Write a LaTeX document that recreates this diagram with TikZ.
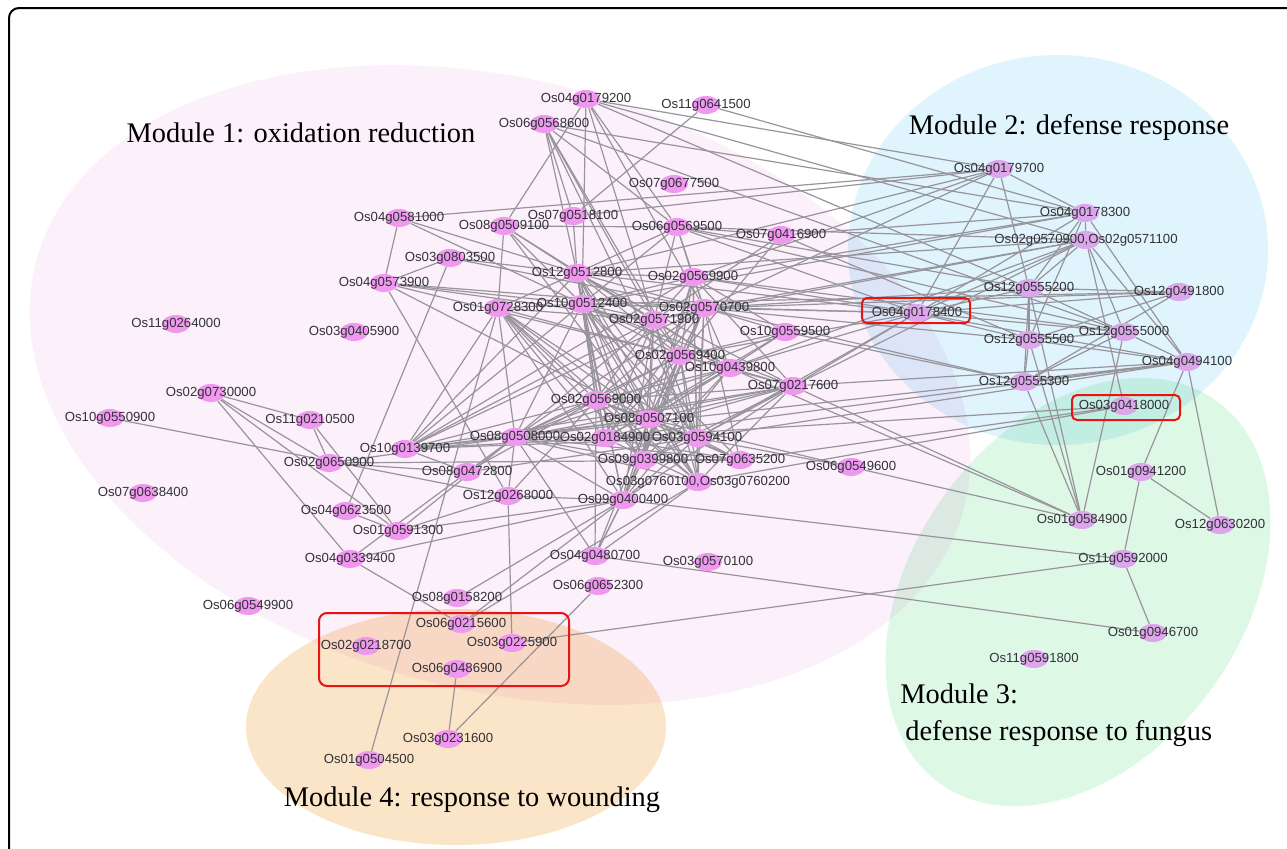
\documentclass[tikz,border=0pt]{standalone}
\usepackage{fontspec}
\setmainfont{Liberation Serif}
\setsansfont{Liberation Sans}
\usetikzlibrary{shapes.geometric}

\definecolor{modpink}{RGB}{252,240,251}
\definecolor{modblue}{RGB}{223,244,252}
\definecolor{modgreen}{RGB}{222,248,230}
\definecolor{modpeach}{RGB}{251,229,200}
\definecolor{genepink}{RGB}{240,152,240}
\definecolor{genelilac}{RGB}{220,165,236}
\definecolor{linkgray}{RGB}{152,148,156}
\definecolor{labelgray}{RGB}{50,50,55}
\definecolor{hilite}{RGB}{232,20,20}

\pgfdeclarelayer{regions}
\pgfdeclarelayer{links}
\pgfsetlayers{regions,links,main}

\begin{document}
\begin{tikzpicture}[
  x=0.5pt, y=-0.5pt,
  gene/.style={ellipse, fill=genepink, minimum width=14pt, minimum height=9pt, inner sep=0pt,
    label={[genelabel]center:#1}},
  defgene/.style={gene={#1}, fill=genelilac},
  genelabel/.style={font=\sffamily\fontsize{6.6}{7}\selectfont, text=labelgray, inner sep=0pt},
  link/.style={draw=linkgray, line width=0.6pt},
  module/.style={font=\fontsize{14.2}{18.5}\selectfont, align=left, inner sep=0pt},
  hilite/.style={draw=hilite, line width=1pt, rounded corners=2.5pt}
]
\useasboundingbox (0,0) rectangle (1287,848);

% modules
\begin{pgfonlayer}{regions}
\begin{scope}[blend mode=multiply]
\fill[modpink, rotate around={-15:(500,385)}] (500,385) ellipse [x radius=240pt, y radius=152.5pt];
\fill[modblue] (1058,250) ellipse [x radius=105pt, y radius=97.5pt];
\fill[modgreen, rotate around={54:(1078,592)}] (1078,592) ellipse [x radius=118pt, y radius=82.5pt];
\fill[modpeach] (456,727) ellipse [x radius=105pt, y radius=59pt];
\end{scope}
\end{pgfonlayer}

\draw[line width=1pt, rounded corners=5pt] (9,860) -- (9,8) -- (1300,8);

% module 1
\node[gene=Os04g0179200] (Os04g0179200) at (586,99) {};
\node[gene=Os11g0641500] (Os11g0641500) at (706,105) {};
\node[gene=Os06g0568600] (Os06g0568600) at (544,124) {};
\node[gene=Os07g0677500] (Os07g0677500) at (674,184) {};
\node[gene=Os04g0581000] (Os04g0581000) at (399,218) {};
\node[gene=Os08g0509100] (Os08g0509100) at (504,226) {};
\node[gene=Os07g0518100] (Os07g0518100) at (573,216) {};
\node[gene=Os06g0569500] (Os06g0569500) at (677,227) {};
\node[gene=Os07g0416900] (Os07g0416900) at (781,235) {};
\node[gene=Os03g0803500] (Os03g0803500) at (450,258) {};
\node[gene=Os12g0512800] (Os12g0512800) at (577,273) {};
\node[gene=Os02g0569900] (Os02g0569900) at (693,277) {};
\node[gene=Os04g0573900] (Os04g0573900) at (384,283) {};
\node[gene=Os01g0728300] (Os01g0728300) at (498,308) {};
\node[gene=Os10g0512400] (Os10g0512400) at (582,304) {};
\node[gene=Os02g0570700] (Os02g0570700) at (704,308) {};
\node[gene=Os02g0571900] (Os02g0571900) at (654,320) {};
\node[gene=Os10g0559500] (Os10g0559500) at (785,332) {};
\node[gene=Os11g0264000] (Os11g0264000) at (176,324) {};
\node[gene=Os03g0405900] (Os03g0405900) at (354,332) {};
\node[gene=Os02g0569400] (Os02g0569400) at (680,356) {};
\node[gene=Os10g0439800] (Os10g0439800) at (730,368) {};
\node[gene=Os07g0217600] (Os07g0217600) at (793,386) {};
\node[gene=Os02g0730000] (Os02g0730000) at (211,393) {};
\node[gene=Os10g0550900] (Os10g0550900) at (110,418) {};
\node[gene=Os11g0210500] (Os11g0210500) at (310,420) {};
\node[gene=Os02g0569000] (Os02g0569000) at (596,400) {};
\node[gene=Os08g0507100] (Os08g0507100) at (649,419) {};
\node[gene=Os10g0139700] (Os10g0139700) at (405,449) {};
\node[gene=Os08g0508000] (Os08g0508000) at (515,437) {};
\node[gene=Os02g0184900] (Os02g0184900) at (605,438) {};
\node[gene=Os03g0594100] (Os03g0594100) at (697,438) {};
\node[gene=Os02g0650900] (Os02g0650900) at (329,463) {};
\node[gene=Os08g0472800] (Os08g0472800) at (467,472) {};
\node[gene=Os09g0399800] (Os09g0399800) at (643,460) {};
\node[gene=Os07g0635200] (Os07g0635200) at (740,460) {};
\node[gene=Os06g0549600] (Os06g0549600) at (851,467) {};
\node[gene=Os07g0638400] (Os07g0638400) at (143,493) {};
\node[gene={Os03g0760100,Os03g0760200}] (Os03g0760100) at (698,482) {};
\node[gene=Os12g0268000] (Os12g0268000) at (508,496) {};
\node[gene=Os09g0400400] (Os09g0400400) at (623,500) {};
\node[gene=Os04g0623500] (Os04g0623500) at (346,511) {};
\node[gene=Os01g0591300] (Os01g0591300) at (398,531) {};
\node[gene=Os04g0339400] (Os04g0339400) at (350,559) {};
\node[gene=Os04g0480700] (Os04g0480700) at (595,556) {};
\node[gene=Os03g0570100] (Os03g0570100) at (708,562) {};
\node[gene=Os06g0549900] (Os06g0549900) at (248,606) {};
\node[gene=Os08g0158200] (Os08g0158200) at (457,598) {};
\node[gene=Os06g0652300] (Os06g0652300) at (598,586) {};
% module 4
\node[gene=Os06g0215600] (Os06g0215600) at (461,624) {};
\node[gene=Os02g0218700] (Os02g0218700) at (366,646) {};
\node[gene=Os03g0225900] (Os03g0225900) at (512,643) {};
\node[gene=Os06g0486900] (Os06g0486900) at (457,669) {};
\node[gene=Os03g0231600] (Os03g0231600) at (448,739) {};
\node[gene=Os01g0504500] (Os01g0504500) at (369,760) {};
% module 2
\node[defgene=Os04g0179700] (Os04g0179700) at (999,169) {};
\node[defgene=Os04g0178300] (Os04g0178300) at (1085,213) {};
\node[defgene={Os02g0570900,Os02g0571100}] (Os02g0570900) at (1086,240) {};
\node[defgene=Os12g0555200] (Os12g0555200) at (1029,288) {};
\node[defgene=Os12g0491800] (Os12g0491800) at (1179,292) {};
\node[defgene=Os04g0178400] (Os04g0178400) at (917,313) {};
\node[defgene=Os12g0555500] (Os12g0555500) at (1029,340) {};
\node[defgene=Os12g0555000] (Os12g0555000) at (1124,332) {};
\node[defgene=Os04g0494100] (Os04g0494100) at (1187,362) {};
\node[defgene=Os12g0555300] (Os12g0555300) at (1024,382) {};
\node[defgene=Os03g0418000] (Os03g0418000) at (1124,406) {};
% module 3
\node[defgene=Os01g0941200] (Os01g0941200) at (1141,472) {};
\node[defgene=Os01g0584900] (Os01g0584900) at (1082,520) {};
\node[defgene=Os12g0630200] (Os12g0630200) at (1220,525) {};
\node[defgene=Os11g0592000] (Os11g0592000) at (1123,559) {};
\node[defgene=Os01g0946700] (Os01g0946700) at (1153,633) {};
\node[defgene=Os11g0591800] (Os11g0591800) at (1034,659) {};

% titles
\node[module] (title1) at (301,133) {Module 1: oxidation reduction};
\node[module] (title2) at (1069,128) {Module 2: defense response};
\node[module, anchor=north west] (title3) at (900,683) {Module 3:\\\hspace{2.5pt}defense response to fungus};
\node[module] (title4) at (472,800) {Module 4: response to wounding};

% highlighted genes
\draw[hilite] (862,298) rectangle (970,323);
\draw[hilite] (1072,395) rectangle (1180,420);
\draw[hilite, rounded corners=4pt] (319,613) rectangle (569,686);

% interactions
\begin{pgfonlayer}{links}
\path[link] (Os04g0179200) edge (Os04g0179700) edge (Os12g0555200) edge (Os02g0570900) edge (Os06g0569500) edge (Os10g0512400) edge (Os08g0509100) edge (Os02g0570700) edge (Os02g0571900);
\path[link] (Os06g0568600) edge (Os12g0512800) edge (Os02g0571900) edge (Os02g0569400) edge (Os03g0594100) edge (Os06g0569500) edge (Os04g0178300) edge (Os07g0518100) edge (Os12g0555000);
\path[link] (Os11g0641500) edge (Os07g0518100) edge (Os04g0178300);
\path[link] (Os04g0581000) edge (Os04g0573900) edge (Os04g0179700) edge (Os12g0512800) edge (Os10g0512400);
\path[link] (Os08g0509100) edge (Os01g0728300) edge (Os12g0512800) edge (Os10g0512400) edge (Os02g0571900) edge (Os06g0569500) edge (Os08g0507100);
\path[link] (Os07g0518100) edge (Os04g0179700) edge (Os12g0512800);
\path[link] (Os06g0569500) edge (Os02g0569900) edge (Os02g0570700) edge (Os02g0571900) edge (Os10g0512400) edge (Os07g0416900) edge (Os12g0555200) edge (Os04g0178400) edge (Os02g0570900) edge (Os12g0512800) edge (Os12g0555000);
\path[link] (Os07g0416900) edge (Os02g0571900) edge (Os02g0569400) edge (Os12g0555500) edge (Os04g0178300);
\path[link] (Os03g0803500) edge (Os04g0573900) edge (Os04g0623500) edge (Os12g0512800) edge (Os02g0570700);
\path[link] (Os04g0573900) edge (Os10g0512400) edge (Os02g0571900) edge (Os02g0569400) edge (Os08g0507100) edge (Os02g0570700);
\path[link] (Os12g0512800) edge (Os10g0512400) edge (Os02g0569900) edge (Os02g0570700) edge (Os02g0571900) edge (Os02g0569400) edge (Os10g0439800) edge (Os07g0217600) edge (Os02g0569000) edge (Os08g0507100) edge (Os02g0184900) edge (Os03g0594100) edge (Os09g0399800) edge (Os03g0760100) edge (Os09g0400400) edge (Os02g0570900);
\path[link] (Os10g0512400) edge (Os02g0569900) edge (Os02g0570700) edge (Os02g0571900) edge (Os02g0569400) edge (Os10g0439800) edge (Os07g0217600) edge (Os02g0569000) edge (Os08g0507100) edge (Os02g0184900) edge (Os03g0594100) edge (Os08g0508000) edge (Os09g0399800) edge (Os07g0635200) edge (Os03g0760100) edge (Os09g0400400) edge (Os12g0491800);
\path[link] (Os01g0728300) edge (Os12g0512800) edge (Os10g0512400) edge (Os02g0571900) edge (Os02g0569400) edge (Os02g0569000) edge (Os08g0507100) edge (Os02g0184900) edge (Os03g0594100) edge (Os08g0508000) edge (Os09g0399800) edge (Os03g0760100) edge (Os09g0400400) edge (Os10g0139700) edge (Os01g0504500);
\path[link] (Os02g0569900) edge (Os02g0570700) edge (Os02g0571900) edge (Os02g0569400) edge (Os08g0507100) edge (Os03g0594100) edge (Os09g0399800) edge (Os03g0760100) edge (Os07g0217600) edge (Os10g0559500) edge (Os12g0555000);
\path[link] (Os02g0570700) edge (Os02g0571900) edge (Os02g0569400) edge (Os10g0439800) edge (Os02g0569000) edge (Os08g0507100) edge (Os02g0184900) edge (Os03g0594100) edge (Os08g0508000) edge (Os09g0399800) edge (Os07g0635200) edge (Os03g0760100) edge (Os09g0400400) edge (Os10g0559500) edge (Os12g0491800);
\path[link] (Os02g0571900) edge (Os02g0569400) edge (Os10g0439800) edge (Os02g0569000) edge (Os08g0507100) edge (Os02g0184900) edge (Os03g0594100) edge (Os08g0508000) edge (Os09g0399800) edge (Os03g0760100) edge (Os09g0400400);
\path[link] (Os02g0569400) edge (Os10g0439800) edge (Os02g0569000) edge (Os08g0507100) edge (Os02g0184900) edge (Os03g0594100) edge (Os08g0508000) edge (Os09g0399800) edge (Os03g0760100) edge (Os09g0400400) edge (Os07g0217600);
\path[link] (Os10g0439800) edge (Os07g0217600) edge (Os02g0569000) edge (Os08g0507100) edge (Os02g0184900) edge (Os08g0508000) edge (Os09g0399800) edge (Os09g0400400) edge (Os02g0570900);
\path[link] (Os07g0217600) edge (Os02g0569000) edge (Os08g0507100) edge (Os02g0184900) edge (Os03g0594100) edge (Os08g0508000) edge (Os09g0399800) edge (Os03g0760100) edge (Os09g0400400);
\path[link] (Os02g0569000) edge (Os08g0507100) edge (Os02g0184900) edge (Os03g0594100) edge (Os08g0508000) edge (Os09g0399800) edge (Os07g0635200) edge (Os03g0760100);
\path[link] (Os08g0507100) edge (Os03g0594100) edge (Os08g0508000) edge (Os09g0399800) edge (Os07g0635200) edge (Os03g0760100) edge (Os09g0400400);
\path[link] (Os02g0184900) edge (Os03g0594100) edge (Os08g0508000) edge (Os07g0635200) edge (Os03g0760100) edge (Os04g0494100);
\path[link] (Os03g0594100) edge (Os08g0508000) edge (Os09g0399800) edge (Os07g0635200) edge (Os09g0400400);
\path[link] (Os08g0508000) edge (Os09g0399800) edge (Os07g0635200) edge (Os03g0760100) edge (Os09g0400400) edge (Os04g0494100);
\path[link] (Os09g0399800) edge (Os07g0635200) edge (Os09g0400400);
\path[link] (Os10g0559500) edge (Os02g0569400) edge (Os08g0507100) edge (Os02g0184900) edge (Os08g0508000);
\path[link] (Os10g0139700) edge (Os12g0512800) edge (Os10g0512400) edge (Os02g0569900) edge (Os02g0570700) edge (Os02g0571900) edge (Os02g0569000) edge (Os08g0507100) edge (Os02g0184900) edge (Os03g0594100) edge (Os08g0508000) edge (Os07g0217600);
\path[link] (Os04g0179700) edge (Os04g0178300) edge (Os12g0555200) edge (Os02g0570700) edge (Os12g0512800) edge (Os02g0569900) edge (Os04g0178400);
\path[link] (Os04g0178300) edge (Os02g0570900) edge (Os12g0555200) edge (Os12g0555500) edge (Os04g0178400) edge (Os02g0569900) edge (Os10g0512400) edge (Os04g0494100);
\path[link] (Os02g0570900) edge (Os12g0555200) edge (Os12g0555000) edge (Os04g0494100) edge (Os03g0418000) edge (Os04g0178400) edge (Os02g0570700) edge (Os02g0571900) edge (Os07g0217600);
\path[link] (Os12g0555200) edge (Os12g0555500) edge (Os12g0555300) edge (Os12g0491800) edge (Os12g0555000) edge (Os04g0178400) edge (Os01g0584900) edge (Os02g0570700);
\path[link] (Os12g0491800) edge (Os04g0178400) edge (Os12g0555500) edge (Os12g0555300);
\path[link] (Os04g0178400) edge (Os02g0570700) edge (Os10g0512400) edge (Os02g0569900) edge (Os02g0569400) edge (Os10g0439800) edge (Os07g0217600) edge (Os03g0594100) edge (Os12g0512800) edge (Os12g0555000) edge (Os12g0555500) edge (Os04g0494100);
\path[link] (Os12g0555500) edge (Os12g0555300) edge (Os01g0584900) edge (Os12g0555000) edge (Os04g0494100) edge (Os02g0570700);
\path[link] (Os12g0555000) edge (Os04g0494100) edge (Os01g0584900) edge (Os12g0555300);
\path[link] (Os04g0494100) edge (Os12g0630200) edge (Os01g0941200) edge (Os12g0555300) edge (Os07g0217600) edge (Os03g0594100);
\path[link] (Os12g0555300) edge (Os01g0584900) edge (Os02g0570700) edge (Os10g0559500);
\path[link] (Os03g0418000) edge (Os07g0635200) edge (Os03g0760100) edge (Os02g0184900);
\path[link] (Os01g0584900) edge (Os06g0549600) edge (Os10g0439800) edge (Os07g0217600);
\path[link] (Os01g0941200) edge (Os11g0592000) edge (Os12g0630200);
\path[link] (Os11g0592000) edge (Os01g0946700) edge (Os09g0400400) edge (Os03g0225900);
\path[link] (Os02g0730000) edge (Os11g0210500) edge (Os02g0650900) edge (Os01g0591300) edge (Os04g0339400);
\path[link] (Os11g0210500) edge (Os02g0650900) edge (Os01g0591300);
\path[link] (Os10g0550900) edge (Os12g0268000);
\path[link] (Os02g0650900) edge (Os08g0508000) edge (Os08g0472800) edge (Os07g0635200);
\path[link] (Os04g0623500) edge (Os01g0591300);
\path[link] (Os01g0591300) edge (Os09g0400400) edge (Os12g0268000) edge (Os08g0508000);
\path[link] (Os04g0339400) edge (Os06g0215600) edge (Os09g0400400) edge (Os08g0508000);
\path[link] (Os08g0158200) edge (Os09g0400400);
\path[link] (Os06g0215600) edge (Os09g0400400) edge (Os03g0760100);
\path[link] (Os03g0225900) edge (Os12g0268000);
\path[link] (Os03g0231600) edge (Os06g0652300) edge (Os06g0486900);
\path[link] (Os04g0480700) edge (Os09g0400400) edge (Os03g0760100) edge (Os09g0399800) edge (Os08g0507100) edge (Os02g0569000) edge (Os01g0946700) edge (Os08g0508000);
\path[link] (Os12g0268000) edge (Os08g0508000) edge (Os02g0569000) edge (Os09g0400400) edge (Os04g0573900);
\path[link] (Os08g0472800) edge (Os08g0508000) edge (Os02g0569000) edge (Os10g0139700) edge (Os03g0594100);
\path[link] (Os06g0549600) edge (Os03g0594100) edge (Os08g0507100);
\end{pgfonlayer}
\end{tikzpicture}
\end{document}
